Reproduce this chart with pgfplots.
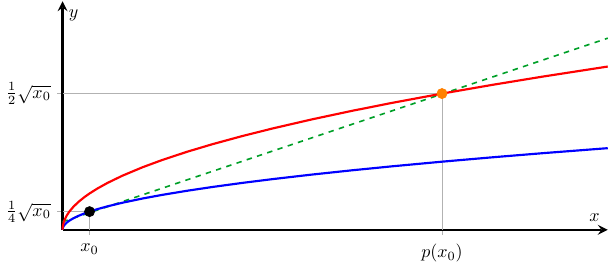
\documentclass[border=0pt]{standalone}
\usepackage{amsmath}
\usepackage{pgfplots}
\pgfplotsset{compat=1.18}
\definecolor{dgreen}{RGB}{0,160,40}
\definecolor{dorange}{RGB}{255,128,0}
\begin{document}
\begin{tikzpicture}
\begin{axis}[
  scale only axis, width=303pt, height=127pt,
  xmin=0, xmax=546, ymin=0, ymax=229,
  axis lines=left,
  axis line style={line width=1.4pt},
  xtick={27,380}, xticklabels={$x_0$,$p(x_0)$},
  ytick={18.2,136.5}, yticklabels={$\tfrac{1}{4}\sqrt{x_0}$,$\tfrac{1}{2}\sqrt{x_0}$},
  tick style={gray!60, thin},
  tick align=outside, major tick length=3pt,
  xticklabel style={yshift=-1.5pt},
  xlabel={$x$}, ylabel={$y$},
  every axis x label/.style={at={(axis description cs:1,0)}, anchor=south east, xshift=-1pt, yshift=1pt},
  every axis y label/.style={at={(axis description cs:0,1)}, anchor=north west, xshift=0pt, yshift=-1pt},
  clip=false,
]
\addplot[gray!60, thin] coordinates {(27,0) (27,18.2) (0,18.2)};
\addplot[gray!60, thin] coordinates {(380,0) (380,136.5) (0,136.5)};
\addplot[dgreen, dashed, line width=0.9pt] coordinates {(0,8) (546,192)};
\addplot[blue, line width=1.2pt] coordinates {
(0,0) (0.06,0.86) (0.25,1.75) (1,3.5) (2,4.95) (4,7) (7,9.26) (11,11.61) (16,14) (22,16.42) (27,18.19)
(35,20.71) (45,23.48) (60,27.11) (80,31.31) (100,35) (125,39.13) (150,42.87) (180,46.96) (210,50.72)
(250,55.34) (290,59.60) (330,63.58) (380,68.23) (430,72.58) (480,76.68) (546,81.78)};
\addplot[red, line width=1.2pt] coordinates {
(0,0) (0.06,1.71) (0.25,3.5) (1,7) (2,9.90) (4,14) (7,18.52) (11,23.22) (16,28) (22,32.83) (27,36.37)
(35,41.41) (45,46.96) (60,54.22) (80,62.61) (100,70) (125,78.26) (150,85.73) (180,93.91) (210,101.44)
(250,110.68) (290,119.21) (330,127.16) (380,136.46) (430,145.15) (480,153.36) (546,163.57)};
\addplot[only marks, mark=*, mark size=2.8pt, black] coordinates {(27,18.2)};
\addplot[only marks, mark=*, mark size=2.8pt, dorange, mark options={draw=dorange, fill=dorange}] coordinates {(380,136.5)};
\end{axis}
\end{tikzpicture}
\end{document}
